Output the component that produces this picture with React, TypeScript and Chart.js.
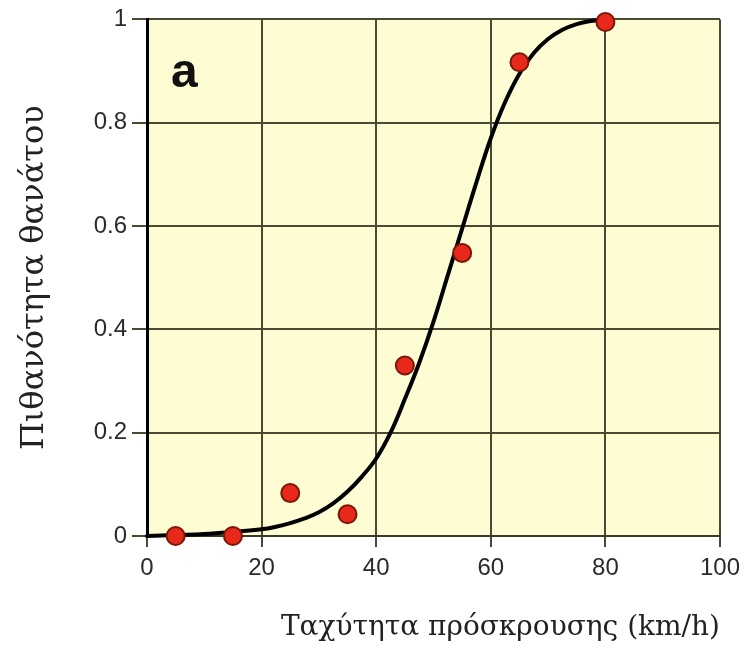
import React, { useEffect, useRef } from "react";
import { Chart, registerables } from "chart.js";

Chart.register(...registerables);

// Observed data points (impact speed km/h, probability of death)
const pointSpeeds = [5, 15, 25, 35, 45, 55, 65, 80];
const pointProbs = [0.0, 0.0, 0.083, 0.042, 0.33, 0.548, 0.917, 0.995];

// Fitted curve
const curveSpeeds = [0, 5, 10, 15, 20, 22.5, 25, 27.5, 30, 32.5, 35, 37.5, 40, 42.5, 45, 47.5, 50, 52.5, 55, 57.5, 60, 62.5, 65, 67.5, 70, 72.5, 75, 77.5, 80];
const curveProbs = [0, 0.002, 0.004, 0.008, 0.013, 0.018, 0.025, 0.034, 0.046, 0.063, 0.086, 0.115, 0.15, 0.2, 0.265, 0.335, 0.415, 0.505, 0.595, 0.685, 0.77, 0.84, 0.895, 0.935, 0.962, 0.98, 0.991, 0.997, 1.0];

const xTickLabels = ["0", "20", "40", "60", "80", "100"];
const yTickLabels = ["0", "0.2", "0.4", "0.6", "0.8", "1"];

const xTitle = "Ταχύτητα πρόσκρουσης (km/h)";
const yTitle = "Πιθανότητα θανάτου";
const panelLabel = "a";

const SANS = "'Liberation Sans', Arial, sans-serif";
const SERIF = "'DejaVu Serif', 'Liberation Serif', serif";

const bgPlugin = {
  id: "bgPlugin",
  beforeDraw(chart: any) {
    const { ctx, chartArea } = chart;
    ctx.save();
    ctx.fillStyle = "#ffffff";
    ctx.fillRect(0, 0, chart.width, chart.height);
    ctx.fillStyle = "#fefcd3";
    ctx.fillRect(chartArea.left, chartArea.top, chartArea.right - chartArea.left, chartArea.bottom - chartArea.top);
    ctx.restore();
  },
  afterDraw(chart: any) {
    const { ctx, chartArea } = chart;
    ctx.save();
    ctx.fillStyle = "#111111";
    ctx.font = `bold 48px ${SANS}`;
    ctx.textBaseline = "alphabetic";
    ctx.textAlign = "left";
    ctx.fillText(panelLabel, chartArea.left + 24, chartArea.top + 68);
    ctx.restore();
  },
};

export default function App() {
  const ref = useRef<HTMLCanvasElement | null>(null);

  useEffect(() => {
    if (!ref.current) return;
    const chart = new Chart(ref.current, {
      type: "scatter",
      data: {
        datasets: [
          {
            label: "points",
            data: pointSpeeds.map((x, i) => ({ x, y: pointProbs[i] })),
            pointRadius: 9,
            pointBorderWidth: 2,
            pointBackgroundColor: "#e8281a",
            pointBorderColor: "#7a1808",
            showLine: false,
            clip: false,
            order: 0,
          } as any,
          {
            label: "curve",
            data: curveSpeeds.map((x, i) => ({ x, y: curveProbs[i] })),
            showLine: true,
            pointRadius: 0,
            borderColor: "#000000",
            borderWidth: 4,
            tension: 0.4,
            borderCapStyle: "round",
            borderJoinStyle: "round",
            clip: false,
            order: 1,
          } as any,
        ],
      },
      options: {
        responsive: false,
        animation: false,
        layout: { padding: { top: 17, right: 29, left: 0, bottom: 0 } },
        plugins: {
          legend: { display: false },
          tooltip: { enabled: false },
        },
        scales: {
          x: {
            type: "linear",
            min: 0,
            max: 100,
            afterFit(scale: any) {
              scale.height = 116;
            },
            ticks: {
              stepSize: 20,
              padding: 7,
              color: "#2b2b2b",
              font: { family: SANS, size: 24 },
              maxRotation: 0,
              callback: (_v: any, i: number) => xTickLabels[i],
            },
            grid: {
              color: "#4a4a32",
              lineWidth: 2,
              tickLength: 11,
              tickColor: "#4a4a32",
            },
            border: { display: true, color: "#3a3a28", width: 2 },
            title: {
              display: true,
              text: xTitle,
              align: "end",
              color: "#222222",
              font: { family: SERIF, size: 28 },
              padding: { top: 0, bottom: 7 },
            },
          },
          y: {
            type: "linear",
            min: 0,
            max: 1,
            afterFit(scale: any) {
              scale.width = 147;
            },
            ticks: {
              stepSize: 0.2,
              padding: 5,
              color: "#2b2b2b",
              font: { family: SANS, size: 24 },
              callback: (_v: any, i: number) => yTickLabels[i],
            },
            grid: {
              color: "#4a4a32",
              lineWidth: 2,
              tickLength: 15,
              tickColor: "#4a4a32",
            },
            border: { display: true, color: "#000000", width: 3 },
            title: {
              display: true,
              text: yTitle,
              align: "center",
              color: "#222222",
              font: { family: SERIF, size: 32 },
              padding: { top: 15, bottom: 0 },
            },
          },
        },
      },
      plugins: [bgPlugin],
    } as any);
    return () => chart.destroy();
  }, []);

  return (
    <div style={{ position: "fixed", left: 0, top: 0, width: 749, height: 652, background: "#fff" }}>
      <canvas ref={ref} width={749} height={652} />
    </div>
  );
}
